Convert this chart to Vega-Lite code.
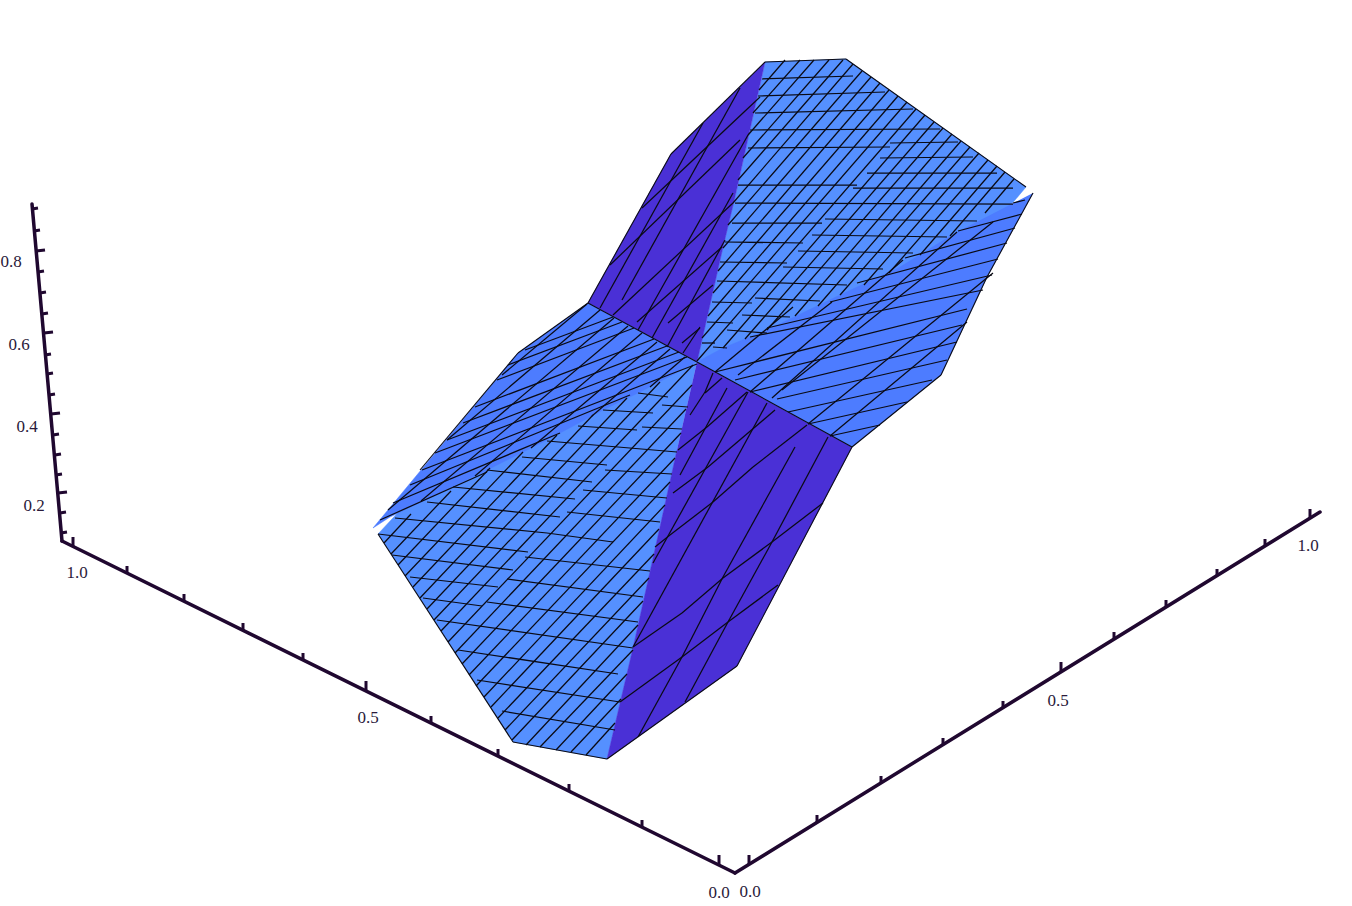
{"$schema":"https://vega.github.io/schema/vega-lite/v6.json","width":1352,"height":906,"autosize":{"type":"none"},"padding":0,"background":"white","config":{"view":{"stroke":null}},
"datasets":{
"faces":[
{"face":"E","s":0,"u":378,"v":534},{"face":"E","s":1,"u":405,"v":505},{"face":"E","s":2,"u":487,"v":462},{"face":"E","s":3,"u":603,"v":405},{"face":"E","s":4,"u":697,"v":362},{"face":"E","s":5,"u":677,"v":450},{"face":"E","s":6,"u":660,"v":527},{"face":"E","s":7,"u":633,"v":648},{"face":"E","s":8,"u":607,"v":759},{"face":"E","s":9,"u":513,"v":742},
{"face":"A","s":0,"u":765,"v":62},{"face":"A","s":1,"u":846,"v":59},{"face":"A","s":2,"u":1026,"v":187},{"face":"A","s":3,"u":1005,"v":212},{"face":"A","s":4,"u":957,"v":238},{"face":"A","s":5,"u":840,"v":300},{"face":"A","s":6,"u":697,"v":362},{"face":"A","s":7,"u":723,"v":247},{"face":"A","s":8,"u":735,"v":197},
{"face":"C","s":0,"u":765,"v":62},{"face":"C","s":1,"u":735,"v":197},{"face":"C","s":2,"u":723,"v":247},{"face":"C","s":3,"u":697,"v":362},{"face":"C","s":4,"u":588,"v":303},{"face":"C","s":5,"u":671,"v":154},
{"face":"F","s":0,"u":697,"v":362},{"face":"F","s":1,"u":852,"v":447},{"face":"F","s":2,"u":737,"v":666},{"face":"F","s":3,"u":607,"v":759},{"face":"F","s":4,"u":633,"v":648},{"face":"F","s":5,"u":660,"v":527},{"face":"F","s":6,"u":677,"v":450},
{"face":"D","s":0,"u":588,"v":303},{"face":"D","s":1,"u":697,"v":362},{"face":"D","s":2,"u":640,"v":392},{"face":"D","s":3,"u":603,"v":410},{"face":"D","s":4,"u":547,"v":440},{"face":"D","s":5,"u":487,"v":470},{"face":"D","s":6,"u":390,"v":517},{"face":"D","s":7,"u":373,"v":528},{"face":"D","s":8,"u":518,"v":353},
{"face":"B","s":0,"u":1033,"v":193},{"face":"B","s":1,"u":987,"v":277},{"face":"B","s":2,"u":941,"v":375},{"face":"B","s":3,"u":852,"v":447},{"face":"B","s":4,"u":697,"v":362},{"face":"B","s":5,"u":723,"v":348},{"face":"B","s":6,"u":767,"v":330},{"face":"B","s":7,"u":840,"v":295},{"face":"B","s":8,"u":900,"v":267},{"face":"B","s":9,"u":957,"v":232}
],
"hatch":[
{"u":762,"v":79,"p":853,"q":76},{"u":758,"v":96,"p":885,"q":92},{"u":755,"v":113,"p":913,"q":109},{"u":750,"v":130,"p":940,"q":129},{"u":748,"v":148,"p":890,"q":147},{"u":890,"v":143,"p":958,"q":142},{"u":880,"v":158,"p":973,"q":157},{"u":867,"v":173,"p":997,"q":173},{"u":738,"v":185,"p":857,"q":185},{"u":853,"v":188,"p":1013,"q":188},{"u":735,"v":203,"p":1013,"q":204},{"u":732,"v":223,"p":822,"q":223},{"u":825,"v":219,"p":977,"q":221},{"u":725,"v":242,"p":803,"q":243},{"u":812,"v":235,"p":947,"q":237},{"u":720,"v":262,"p":787,"q":263},{"u":798,"v":251,"p":913,"q":253},{"u":783,"v":267,"p":883,"q":269},{"u":717,"v":281,"p":847,"q":285},{"u":755,"v":298,"p":820,"q":301},{"u":712,"v":302,"p":752,"q":303},{"u":742,"v":315,"p":790,"q":317},{"u":707,"v":322,"p":733,"q":323},{"u":727,"v":330,"p":767,"q":333},{"u":702,"v":343,"p":715,"q":343},{"u":713,"v":347,"p":727,"q":348},
{"u":785,"v":60,"p":759,"q":90},{"u":800,"v":60,"p":753,"q":113},{"u":814,"v":60,"p":748,"q":135},{"u":829,"v":60,"p":743,"q":158},{"u":843,"v":60,"p":738,"q":180},{"u":853,"v":64,"p":733,"q":203},{"u":862,"v":71,"p":728,"q":225},{"u":871,"v":77,"p":723,"q":248},{"u":880,"v":83,"p":718,"q":271},{"u":889,"v":90,"p":713,"q":293},{"u":898,"v":96,"p":708,"q":316},{"u":907,"v":102,"p":702,"q":338},{"u":916,"v":109,"p":697,"q":361},{"u":925,"v":115,"p":723,"q":348},{"u":934,"v":122,"p":745,"q":339},{"u":943,"v":128,"p":767,"q":330},{"u":952,"v":134,"p":795,"q":316},{"u":961,"v":141,"p":818,"q":306},{"u":970,"v":147,"p":840,"q":295},{"u":979,"v":153,"p":864,"q":285},{"u":988,"v":160,"p":889,"q":273},{"u":997,"v":166,"p":920,"q":255},{"u":1005,"v":172,"p":950,"q":236},{"u":1014,"v":179,"p":985,"q":213},
{"u":600,"v":308,"p":703,"q":123},{"u":622,"v":300,"p":740,"q":88},{"u":638,"v":330,"p":748,"q":135},{"u":652,"v":338,"p":733,"q":193},{"u":667,"v":347,"p":725,"q":240},{"u":683,"v":353,"p":700,"q":327},{"u":610,"v":265,"p":740,"q":140},{"u":642,"v":208,"p":760,"q":97},{"u":613,"v":315,"p":733,"q":203},{"u":637,"v":322,"p":722,"q":247},{"u":668,"v":323,"p":713,"q":285},{"u":682,"v":343,"p":700,"q":328},
{"u":727,"v":388,"p":680,"q":475},{"u":748,"v":392,"p":653,"q":563},{"u":767,"v":403,"p":633,"q":647},{"u":795,"v":447,"p":723,"q":577},{"u":723,"v":577,"p":682,"q":657},{"u":682,"v":657,"p":638,"q":737},{"u":828,"v":437,"p":772,"q":542},{"u":772,"v":542,"p":728,"q":622},{"u":728,"v":622,"p":685,"q":702},{"u":713,"v":373,"p":705,"q":392},{"u":705,"v":392,"p":690,"q":415},
{"u":722,"v":378,"p":705,"q":393},{"u":747,"v":392,"p":707,"q":427},{"u":707,"v":427,"p":678,"q":450},{"u":775,"v":410,"p":708,"q":467},{"u":708,"v":467,"p":673,"q":493},{"u":807,"v":425,"p":753,"q":467},{"u":753,"v":467,"p":713,"q":502},{"u":713,"v":502,"p":670,"q":535},{"u":670,"v":535,"p":655,"q":547},{"u":823,"v":503,"p":772,"q":542},{"u":772,"v":542,"p":723,"q":578},{"u":723,"v":578,"p":682,"q":613},{"u":682,"v":613,"p":633,"q":647},{"u":778,"v":585,"p":728,"q":622},{"u":728,"v":622,"p":682,"q":657},{"u":682,"v":657,"p":620,"q":702},
{"u":1013,"v":203,"p":1025,"q":200},{"u":958,"v":231,"p":1022,"q":214},{"u":905,"v":258,"p":1015,"q":228},{"u":857,"v":283,"p":1007,"q":243},{"u":830,"v":302,"p":998,"q":259},{"u":767,"v":328,"p":992,"q":275},{"u":750,"v":337,"p":983,"q":290},{"u":715,"v":372,"p":967,"q":309},{"u":735,"v":380,"p":962,"q":325},{"u":750,"v":392,"p":957,"q":342},{"u":777,"v":399,"p":947,"q":360},{"u":788,"v":412,"p":932,"q":380},{"u":808,"v":424,"p":907,"q":402},{"u":830,"v":436,"p":880,"q":425},
{"u":715,"v":372,"p":793,"q":307},{"u":738,"v":375,"p":832,"q":302},{"u":750,"v":392,"p":903,"q":260},{"u":772,"v":398,"p":957,"q":232},{"u":782,"v":390,"p":993,"q":222},{"u":808,"v":424,"p":993,"q":273},{"u":830,"v":436,"p":967,"q":322},
{"u":525,"v":350,"p":613,"q":317},{"u":508,"v":365,"p":622,"q":322},{"u":497,"v":380,"p":634,"q":328},{"u":475,"v":407,"p":654,"q":339},{"u":463,"v":423,"p":667,"q":346},{"u":447,"v":440,"p":679,"q":352},{"u":435,"v":453,"p":687,"q":357},{"u":422,"v":470,"p":697,"q":364},{"u":410,"v":485,"p":630,"q":395},{"u":393,"v":503,"p":560,"q":433},{"u":380,"v":520,"p":487,"q":472},
{"u":502,"v":375,"p":587,"q":304},{"u":447,"v":440,"p":600,"q":310},{"u":388,"v":510,"p":614,"q":318},{"u":421,"v":501,"p":628,"q":326},{"u":475,"v":476,"p":642,"q":333},{"u":531,"v":448,"p":657,"q":342},{"u":592,"v":416,"p":670,"q":349},{"u":650,"v":387,"p":685,"q":357},
{"u":638,"v":393,"p":668,"q":397},{"u":662,"v":405,"p":688,"q":407},{"u":603,"v":410,"p":653,"q":413},{"u":642,"v":427,"p":682,"q":429},{"u":578,"v":426,"p":637,"q":430},{"u":547,"v":441,"p":677,"q":452},{"u":522,"v":457,"p":607,"q":465},{"u":605,"v":470,"p":672,"q":474},{"u":487,"v":470,"p":592,"q":482},{"u":583,"v":490,"p":667,"q":498},{"u":453,"v":487,"p":575,"q":499},{"u":567,"v":512,"p":660,"q":522},{"u":427,"v":502,"p":560,"q":517},{"u":395,"v":518,"p":547,"q":533},{"u":547,"v":533,"p":613,"q":542},{"u":378,"v":534,"p":528,"q":552},{"u":525,"v":557,"p":650,"q":571},{"u":392,"v":555,"p":513,"q":570},{"u":507,"v":579,"p":643,"q":597},{"u":410,"v":577,"p":498,"q":587},{"u":487,"v":602,"p":638,"q":622},{"u":423,"v":598,"p":482,"q":606},{"u":437,"v":620,"p":633,"q":648},{"u":458,"v":650,"p":618,"q":674},{"u":477,"v":680,"p":620,"q":702},{"u":502,"v":711,"p":615,"q":730},
{"u":384,"v":543,"p":411,"q":514},{"u":391,"v":554,"p":451,"q":491},{"u":398,"v":565,"p":490,"q":468},{"u":405,"v":576,"p":523,"q":452},{"u":413,"v":587,"p":557,"q":435},{"u":420,"v":598,"p":593,"q":415},{"u":427,"v":609,"p":627,"q":398},{"u":434,"v":620,"p":660,"q":382},{"u":441,"v":631,"p":693,"q":365},{"u":448,"v":642,"p":692,"q":385},{"u":455,"v":653,"p":686,"q":409},{"u":462,"v":664,"p":681,"q":433},{"u":469,"v":675,"p":675,"q":458},{"u":476,"v":686,"p":670,"q":482},{"u":484,"v":697,"p":665,"q":505},{"u":491,"v":707,"p":659,"q":529},{"u":498,"v":718,"p":654,"q":554},{"u":505,"v":730,"p":649,"q":578},{"u":512,"v":740,"p":643,"q":601},{"u":526,"v":745,"p":638,"q":625},{"u":540,"v":747,"p":633,"q":650},{"u":556,"v":750,"p":627,"q":674},{"u":571,"v":752,"p":621,"q":699},{"u":586,"v":755,"p":615,"q":723}
],
"edges":[
{"u":765,"v":62,"p":846,"q":59},{"u":846,"v":59,"p":1026,"q":187},{"u":765,"v":62,"p":671,"q":154},{"u":671,"v":154,"p":588,"q":303},{"u":588,"v":303,"p":697,"q":362},{"u":697,"v":362,"p":852,"q":447},{"u":852,"v":447,"p":941,"q":375},{"u":941,"v":375,"p":987,"q":277},{"u":987,"v":277,"p":1033,"q":193},{"u":852,"v":447,"p":737,"q":666},{"u":737,"v":666,"p":607,"q":759},{"u":607,"v":759,"p":513,"q":742},{"u":513,"v":742,"p":378,"q":534},{"u":588,"v":303,"p":518,"q":353},{"u":518,"v":353,"p":420,"q":470}
],
"axes":[
{"u":62,"v":541,"p":735,"q":873},{"u":735,"v":873,"p":1320,"q":512},{"u":62,"v":541,"p":32,"q":204}
],
"ticks":[
{"u":73,"v":546,"p":73,"q":537},{"u":127,"v":573,"p":127,"q":566},{"u":184,"v":601,"p":184,"q":594},{"u":243,"v":630,"p":243,"q":623},{"u":303,"v":660,"p":303,"q":653},{"u":366,"v":691,"p":366,"q":681},{"u":431,"v":723,"p":431,"q":716},{"u":498,"v":756,"p":498,"q":749},{"u":569,"v":791,"p":569,"q":784},{"u":642,"v":827,"p":642,"q":820},{"u":719,"v":865,"p":719,"q":855},
{"u":749,"v":864,"p":749,"q":855},{"u":817,"v":822,"p":817,"q":815},{"u":881,"v":783,"p":881,"q":776},{"u":943,"v":745,"p":943,"q":738},{"u":1003,"v":708,"p":1003,"q":701},{"u":1061,"v":672,"p":1061,"q":662},{"u":1114,"v":639,"p":1114,"q":632},{"u":1166,"v":607,"p":1166,"q":600},{"u":1217,"v":576,"p":1217,"q":569},{"u":1265,"v":546,"p":1265,"q":539},{"u":1310,"v":518,"p":1310,"q":509},
{"u":32,"v":209,"p":38,"q":208},{"u":34,"v":231,"p":40,"q":230},{"u":36,"v":251,"p":45,"q":250},{"u":38,"v":272,"p":44,"q":271},{"u":40,"v":293,"p":46,"q":292},{"u":42,"v":314,"p":48,"q":313},{"u":44,"v":333,"p":53,"q":332},{"u":45,"v":355,"p":51,"q":354},{"u":47,"v":374,"p":53,"q":373},{"u":49,"v":395,"p":55,"q":394},{"u":51,"v":414,"p":60,"q":413},{"u":53,"v":435,"p":59,"q":434},{"u":55,"v":455,"p":61,"q":454},{"u":56,"v":475,"p":62,"q":474},{"u":58,"v":493,"p":67,"q":492},{"u":60,"v":513,"p":66,"q":512},{"u":61,"v":533,"p":67,"q":532}
],
"labels":[
{"u":11,"v":262,"t":"0.8"},{"u":19,"v":345,"t":"0.6"},{"u":27,"v":427,"t":"0.4"},{"u":34,"v":506,"t":"0.2"},{"u":77,"v":573,"t":"1.0"},{"u":368,"v":718,"t":"0.5"},{"u":719,"v":893,"t":"0.0"},{"u":750,"v":892,"t":"0.0"},{"u":1058,"v":701,"t":"0.5"},{"u":1308,"v":546,"t":"1.0"}
]},
"encoding":{"x":{"field":"u","type":"quantitative","scale":{"domain":[0,1352],"nice":false,"zero":false},"axis":null},"y":{"field":"v","type":"quantitative","scale":{"domain":[906,0],"nice":false,"zero":false},"axis":null}},
"layer":[
{"data":{"name":"faces"},"mark":{"type":"line","strokeWidth":0.5,"interpolate":"linear"},"encoding":{"detail":{"field":"face"},"order":{"field":"s","type":"quantitative"},"fill":{"field":"face","type":"nominal","legend":null,"sort":["E","A","C","F","D","B"],"scale":{"domain":["E","A","C","F","D","B"],"range":["#5590FF","#5590FF","#4A30D6","#4A30D6","#4D7CFF","#4D7CFF"]}},"stroke":{"field":"face","type":"nominal","legend":null,"scale":{"domain":["E","A","C","F","D","B"],"range":["#5590FF","#5590FF","#4A30D6","#4A30D6","#4D7CFF","#4D7CFF"]}}}},
{"data":{"name":"hatch"},"mark":{"type":"rule","color":"#0a0a14","strokeWidth":1.25},"encoding":{"x2":{"field":"p"},"y2":{"field":"q"}}},
{"data":{"name":"edges"},"mark":{"type":"rule","color":"#0a0a14","strokeWidth":1.1},"encoding":{"x2":{"field":"p"},"y2":{"field":"q"}}},
{"data":{"name":"axes"},"mark":{"type":"rule","color":"#200830","strokeWidth":3.5,"strokeCap":"round"},"encoding":{"x2":{"field":"p"},"y2":{"field":"q"}}},
{"data":{"name":"ticks"},"mark":{"type":"rule","color":"#200830","strokeWidth":3},"encoding":{"x2":{"field":"p"},"y2":{"field":"q"}}},
{"data":{"name":"labels"},"mark":{"type":"text","font":"Liberation Serif","fontSize":17,"color":"#2a1a3a","align":"center","baseline":"middle"},"encoding":{"text":{"field":"t"}}}
]}
